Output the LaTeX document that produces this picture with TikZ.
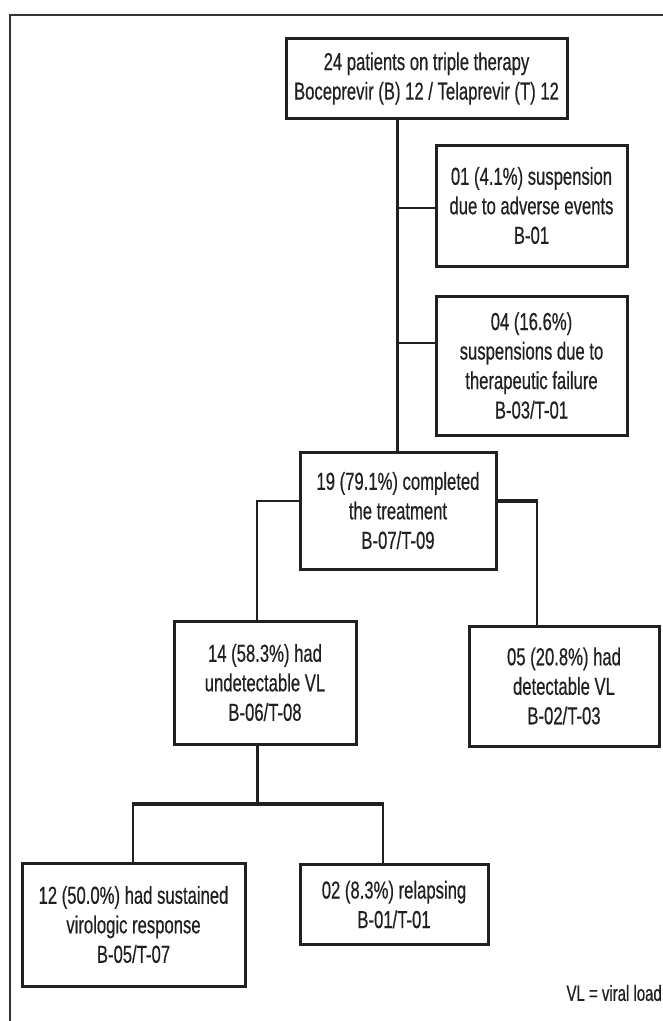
\documentclass[tikz,border=0pt]{standalone}
\usepackage{fontspec}
\setmainfont{Liberation Sans}[FakeStretch=0.68,FakeBold=0.5]
\definecolor{linec}{HTML}{231F20}
\definecolor{framec}{HTML}{333333}
\begin{document}
\begin{tikzpicture}[x=1pt,y=-1pt,
  box/.style={draw=linec, line width=3pt, inner sep=0pt, align=center,
    font=\fontsize{24.5}{29.5}\selectfont, text=linec},
  thinconn/.style={draw=linec, line width=2pt},
  midconn/.style={draw=linec, line width=2.6pt},
  thickconn/.style={draw=linec, line width=4.5pt},
  trunkconn/.style={draw=linec, line width=3pt},
  framel/.style={draw=framec, line width=2pt},
  note/.style={font=\fontsize{22}{26}\selectfont, text=linec, inner sep=0pt}]
\useasboundingbox (0,0) rectangle (663,1021);
\fill[white] (0,0) rectangle (663,1021);
% outer frame (open at right and bottom)
\coordinate (fbl) at (10,1021);
\coordinate (ftl) at (10,15);
\coordinate (ftr) at (663,15);
\draw[framel] (fbl) -- (ftl) -- (ftr);

% boxes
\node[box, minimum width=281pt, minimum height=80pt] (top) at (426.5,78.5)
  {24 patients on triple therapy\\Boceprevir (B) 12 / Telaprevir (T) 12};
\node[box, minimum width=191pt, minimum height=121pt] (b01) at (531.5,205.5)
  {01 (4.1\%) suspension\\due to adverse events\\B-01};
\node[box, minimum width=191pt, minimum height=139pt] (b04) at (531.5,365.5)
  {04 (16.6\%)\\suspensions due to\\therapeutic failure\\B-03/T-01};
\node[box, minimum width=196pt, minimum height=117pt] (b19) at (398,510.5)
  {19 (79.1\%) completed\\the treatment\\B-07/T-09};
\node[box, minimum width=182pt, minimum height=123pt] (b14) at (265,682.5)
  {14 (58.3\%) had\\undetectable VL\\B-06/T-08};
\node[box, minimum width=190pt, minimum height=120pt] (b05) at (564,686)
  {05 (20.8\%) had\\detectable VL\\B-02/T-03};
\node[box, minimum width=223pt, minimum height=123pt] (b12) at (133.5,924.5)
  {12 (50.0\%) had sustained\\virologic response\\B-05/T-07};
\node[box, minimum width=188pt, minimum height=80pt] (b02) at (394,904.5)
  {02 (8.3\%) relapsing\\B-01/T-01};
\node[note, anchor=east] (vl) at (662,993) {VL = viral load};

% connector helper coordinates
\coordinate (tx) at (397,0);
\coordinate (r01) at (0,208);
\coordinate (r04) at (0,343);
\coordinate (lx) at (257,0);
\coordinate (rx) at (537,0);
\coordinate (ry) at (0,501);
\coordinate (by) at (0,804);
\coordinate (blx) at (133,0);
\coordinate (brx) at (383,0);

% trunk
\draw[trunkconn] (tx |- top.south) -- (tx |- b19.north);
\draw[thinconn] (tx |- r01) -- (b01.west |- r01);
\draw[thinconn] (tx |- r04) -- (b04.west |- r04);
% from 19 to left and right
\draw[midconn] (b19.west |- ry) -- (lx |- ry) -- (lx |- b14.north);
\draw[thickconn] (b19.east |- ry) -- ([xshift=1.3pt]rx |- ry);
\draw[midconn] (rx |- ry) -- (rx |- b05.north);
% from 14 to 12 and 02
\draw[trunkconn] (lx |- b14.south) -- (lx |- by);
\draw[thickconn] ([xshift=-1.3pt]blx |- by) -- ([xshift=1.3pt]brx |- by);
\draw[midconn] (blx |- by) -- (blx |- b12.north);
\draw[midconn] (brx |- by) -- (brx |- b02.north);
\end{tikzpicture}
\end{document}
